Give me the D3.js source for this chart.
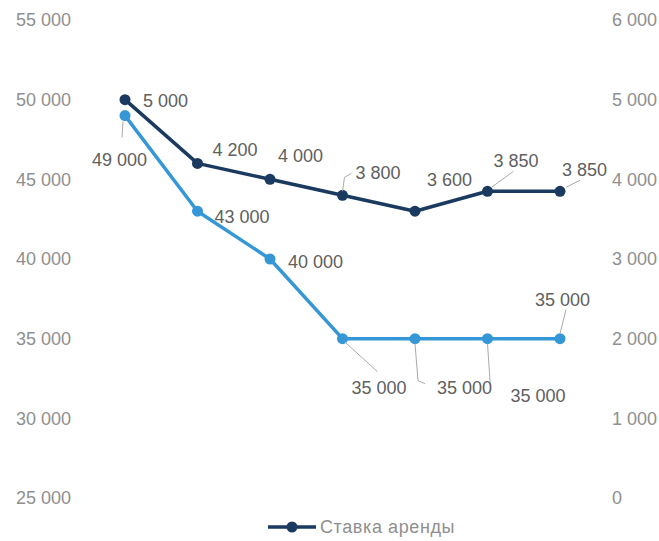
<!DOCTYPE html>
<html>
<head>
<meta charset="utf-8">
<script src="https://cdn.jsdelivr.net/npm/d3@7"></script>
<style>
  html, body { margin: 0; padding: 0; background: #fff; }
  svg { display: block; font-family: "Liberation Sans", Arial, sans-serif; }
</style>
</head>
<body>
<svg id="chart" width="659" height="541"></svg>
<script>
// Periods along the horizontal axis (not labelled on the chart)
const periods = ["П1", "П2", "П3", "П4", "П5", "П6", "П7"];
// Rental rate, right axis
const rentRate = [5000, 4200, 4000, 3800, 3600, 3850, 3850];
// Second series, left axis
const secondSeries = [49000, 43000, 40000, 35000, 35000, 35000, 35000];
// Axis ticks
const leftTicks = [25000, 30000, 35000, 40000, 45000, 50000, 55000];
const rightTicks = [0, 1000, 2000, 3000, 4000, 5000, 6000];
const legendLabel = "Ставка аренды";

// Label placement relative to each point: [dx, dy] of text start, and leader path points (relative)
const rentLabelPos = [
  {dx: 18, dy: 7}, {dx: 15, dy: -7}, {dx: 8, dy: -17},
  {dx: 13, dy: -16, lead: [[0, -4], [2, -18], [9, -22]]},
  {dx: 12, dy: -25},
  {dx: 6, dy: -24, lead: [[4, -4], [26, -20]]},
  {dx: 2, dy: -15, lead: [[6, -4], [20, -11]]}
];
const secondLabelPos = [
  {dx: -33, dy: 50, lead: [[-2, 6], [-3, 22]]},
  {dx: 17, dy: 12}, {dx: 18, dy: 9},
  {dx: 9, dy: 55, lead: [[2, 3], [35, 33]]},
  {dx: 22, dy: 55, lead: [[0, 5], [3, 42], [10, 45]]},
  {dx: 23, dy: 63, lead: [[0, 5], [3, 49]]},
  {dx: -25, dy: -33, lead: [[0, -5], [6, -29]]}
];

const svg = d3.select("#chart");
const fmt = v => d3.format(",")(v).replace(/,/g, " ");

const x = d3.scalePoint().domain(periods).range([125, 560]);
const yLeft = d3.scaleLinear().domain([25000, 55000]).range([498, 20]);
const yRight = d3.scaleLinear().domain([0, 6000]).range([498, 20]);

const darkColor = "#1b3a60";
const lightColor = "#3597d6";
const tickColor = "#8f8f8f";
const labelColor = "#606060";
const fontSize = "18px";

// Left axis
const leftAxis = svg.append("g").attr("transform", "translate(71,0)")
  .call(d3.axisLeft(yLeft).tickValues(leftTicks).tickFormat(fmt).tickSize(0).tickPadding(0));
leftAxis.select(".domain").remove();
leftAxis.selectAll("text").attr("fill", tickColor).style("font-size", fontSize)
  .style("font-family", "'Liberation Sans', Arial, sans-serif");

// Right axis
const rightAxis = svg.append("g").attr("transform", "translate(612,0)")
  .call(d3.axisRight(yRight).tickValues(rightTicks).tickFormat(fmt).tickSize(0).tickPadding(0));
rightAxis.select(".domain").remove();
rightAxis.selectAll("text").attr("fill", tickColor).style("font-size", fontSize)
  .style("font-family", "'Liberation Sans', Arial, sans-serif");

function drawSeries(values, yScale, color, labelPos) {
  const pts = values.map((v, i) => ({px: x(periods[i]), py: yScale(v), v, pos: labelPos[i]}));
  const line = d3.line().x(d => d.px).y(d => d.py);
  svg.append("path").datum(pts).attr("d", line)
    .attr("fill", "none").attr("stroke", color).attr("stroke-width", 3.5)
    .attr("stroke-linejoin", "round");
  svg.append("g").selectAll("circle").data(pts).join("circle")
    .attr("cx", d => d.px).attr("cy", d => d.py).attr("r", 5.5).attr("fill", color);
  // leader lines
  svg.append("g").selectAll("path").data(pts.filter(d => d.pos.lead)).join("path")
    .attr("d", d => d3.line()(d.pos.lead.map(p => [d.px + p[0], d.py + p[1]])))
    .attr("fill", "none").attr("stroke", "#aaa").attr("stroke-width", 1);
  svg.append("g").selectAll("text").data(pts).join("text")
    .attr("x", d => d.px + d.pos.dx).attr("y", d => d.py + d.pos.dy)
    .attr("fill", labelColor).style("font-size", fontSize)
    .text(d => fmt(d.v));
}

drawSeries(secondSeries, yLeft, lightColor, secondLabelPos);
drawSeries(rentRate, yRight, darkColor, rentLabelPos);

// Legend
const legend = svg.append("g").attr("transform", "translate(268,527)");
legend.append("line").attr("x1", 0).attr("x2", 48).attr("y1", 0).attr("y2", 0)
  .attr("stroke", darkColor).attr("stroke-width", 3.5);
legend.append("circle").attr("cx", 24).attr("cy", 0).attr("r", 5.5).attr("fill", darkColor);
legend.append("text").attr("x", 52).attr("y", 6).attr("fill", tickColor)
  .style("font-size", "18px").style("letter-spacing", "0.6px").text(legendLabel);
</script>
</body>
</html>
